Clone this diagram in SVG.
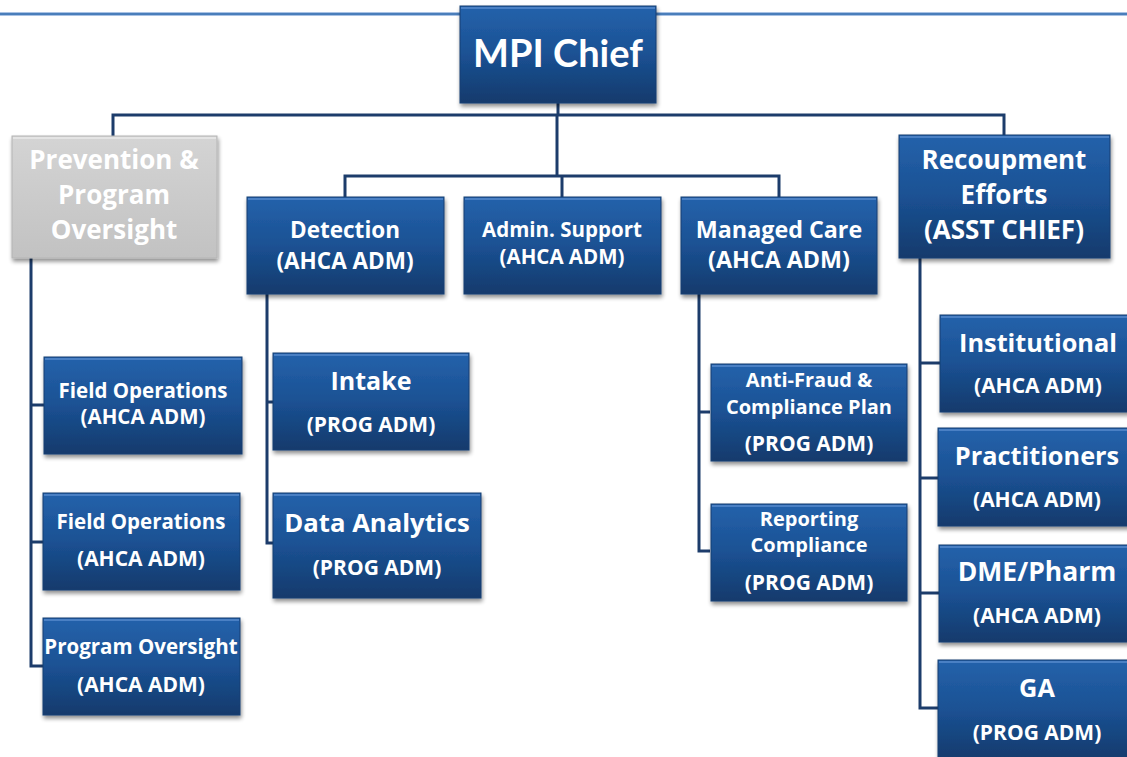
<svg xmlns="http://www.w3.org/2000/svg" width="1127" height="757" viewBox="0 0 1127 757">
  <defs>
    <linearGradient id="blueFill" x1="0" y1="0" x2="0" y2="1">
      <stop offset="0" stop-color="#2462ab"/>
      <stop offset="0.5" stop-color="#1b5193"/>
      <stop offset="1" stop-color="#123a6c"/>
    </linearGradient>
    <linearGradient id="grayFill" x1="0" y1="0" x2="0" y2="1">
      <stop offset="0" stop-color="#d4d4d4"/>
      <stop offset="1" stop-color="#c2c2c2"/>
    </linearGradient>
    <filter id="shadow" x="-10%" y="-10%" width="125%" height="130%">
      <feGaussianBlur in="SourceAlpha" stdDeviation="2"/>
      <feOffset dx="1" dy="3" result="blur"/>
      <feComponentTransfer><feFuncA type="linear" slope="0.45"/></feComponentTransfer>
      <feMerge><feMergeNode/><feMergeNode in="SourceGraphic"/></feMerge>
    </filter>
  </defs>
  <style>
    .box { fill: url(#blueFill); stroke: #163f73; stroke-width: 1; filter: url(#shadow); }
    .gbox { fill: url(#grayFill); stroke: #b4b4b4; stroke-width: 1; filter: url(#shadow); }
    .hl { fill: none; stroke: #4a80c4; stroke-width: 2; }
    .ghl { fill: none; stroke: #e4e4e4; stroke-width: 2; }
    .lbl { font-family: "Open Sans", Lato, "Liberation Sans", sans-serif; font-weight: bold; fill: #ffffff; text-anchor: middle; }
    .title { font-family: Lato, "Open Sans", "Liberation Sans", sans-serif; }
    .sub { font-size: 21px; }
    .conn { fill: none; stroke: #1c3c6b; stroke-width: 3; stroke-linejoin: miter; }
  </style>

  <rect width="1127" height="757" fill="#ffffff"/>
  <!-- header rule -->
  <line x1="0" y1="14" x2="1127" y2="14" stroke="#a9c2e4" stroke-width="4"/>
  <line x1="0" y1="14" x2="1127" y2="14" stroke="#4a7ebb" stroke-width="2"/>

  <g id="connectors" class="conn">
    <polyline points="558,103 558,115"/>
    <polyline points="113,137 113,115 1004,115 1004,135"/>
    <polyline points="557,115 557,176"/>
    <polyline points="345,197 345,176 779,176 779,197"/>
    <polyline points="562,176 562,197"/>
    <!-- Prevention branch -->
    <polyline points="31,258 31,666 43,666"/>
    <polyline points="31,405 44,405"/>
    <polyline points="31,542 43,542"/>
    <!-- Detection branch -->
    <polyline points="267,294 267,543 273,543"/>
    <polyline points="267,402 273,402"/>
    <!-- Managed care branch -->
    <polyline points="699,294 699,551 710,551"/>
    <polyline points="699,412 710,412"/>
    <!-- Recoupment branch -->
    <polyline points="920,258 920,708 938,708"/>
    <polyline points="920,363 940,363"/>
    <polyline points="920,478 938,478"/>
    <polyline points="920,593 939,593"/>
  </g>

  <g id="mpi-chief">
    <rect class="box" x="460" y="6" width="196" height="97"/>
    <line class="hl" x1="461" y1="8" x2="655" y2="8"/>
    <text class="lbl title" x="558" y="67" font-size="38">MPI Chief</text>
  </g>

  <g id="prevention">
    <rect class="gbox" x="12" y="136" width="205" height="122"/>
    <line class="ghl" x1="13" y1="138" x2="216" y2="138"/>
    <text class="lbl" x="114" y="169" font-size="26">Prevention &amp;</text>
    <text class="lbl" x="114" y="204" font-size="26">Program</text>
    <text class="lbl" x="114" y="239" font-size="26">Oversight</text>
  </g>

  <g id="detection">
    <rect class="box" x="247" y="197" width="197" height="97"/>
    <line class="hl" x1="248" y1="199" x2="443" y2="199"/>
    <text class="lbl" x="345" y="238" font-size="22.5">Detection</text>
    <text class="lbl" x="345" y="269" font-size="22.5">(AHCA ADM)</text>
  </g>

  <g id="admin-support">
    <rect class="box" x="464" y="197" width="197" height="97"/>
    <line class="hl" x1="465" y1="199" x2="660" y2="199"/>
    <text class="lbl" x="562" y="237" font-size="20.5">Admin. Support</text>
    <text class="lbl" x="562" y="264" font-size="20.5">(AHCA ADM)</text>
  </g>

  <g id="managed-care">
    <rect class="box" x="681" y="197" width="196" height="97"/>
    <line class="hl" x1="682" y1="199" x2="876" y2="199"/>
    <text class="lbl" x="779" y="238" font-size="23.3">Managed Care</text>
    <text class="lbl" x="779" y="268" font-size="23.3">(AHCA ADM)</text>
  </g>

  <g id="recoupment">
    <rect class="box" x="899" y="135" width="211" height="123"/>
    <line class="hl" x1="900" y1="137" x2="1109" y2="137"/>
    <text class="lbl" x="1004" y="169" font-size="26">Recoupment</text>
    <text class="lbl" x="1004" y="204" font-size="26">Efforts</text>
    <text class="lbl" x="1004" y="239" font-size="26">(ASST CHIEF)</text>
  </g>

  <g id="field-ops-1">
    <rect class="box" x="44" y="357" width="198" height="97"/>
    <line class="hl" x1="45" y1="359" x2="241" y2="359"/>
    <text class="lbl" x="143" y="398" font-size="20.5">Field Operations</text>
    <text class="lbl" x="143" y="424" font-size="20.5">(AHCA ADM)</text>
  </g>

  <g id="field-ops-2">
    <rect class="box" x="43" y="493" width="197" height="97"/>
    <line class="hl" x1="44" y1="495" x2="239" y2="495"/>
    <text class="lbl" x="141" y="529" font-size="20.5">Field Operations</text>
    <text class="lbl sub" x="141" y="566">(AHCA ADM)</text>
  </g>

  <g id="program-oversight">
    <rect class="box" x="43" y="618" width="197" height="97"/>
    <line class="hl" x1="44" y1="620" x2="239" y2="620"/>
    <text class="lbl" x="141" y="654" font-size="20.5">Program Oversight</text>
    <text class="lbl sub" x="141" y="692">(AHCA ADM)</text>
  </g>

  <g id="intake">
    <rect class="box" x="273" y="353" width="196" height="97"/>
    <line class="hl" x1="274" y1="355" x2="468" y2="355"/>
    <text class="lbl" x="371" y="390" font-size="25">Intake</text>
    <text class="lbl sub" x="371" y="432">(PROG ADM)</text>
  </g>

  <g id="data-analytics">
    <rect class="box" x="273" y="493" width="208" height="105"/>
    <line class="hl" x1="274" y1="495" x2="480" y2="495"/>
    <text class="lbl" x="377" y="532" font-size="25.7">Data Analytics</text>
    <text class="lbl sub" x="377" y="575">(PROG ADM)</text>
  </g>

  <g id="anti-fraud">
    <rect class="box" x="711" y="364" width="196" height="97"/>
    <line class="hl" x1="712" y1="366" x2="906" y2="366"/>
    <text class="lbl" x="809" y="387" font-size="20">Anti-Fraud &amp;</text>
    <text class="lbl" x="809" y="414" font-size="20">Compliance Plan</text>
    <text class="lbl sub" x="809" y="451">(PROG ADM)</text>
  </g>

  <g id="reporting">
    <rect class="box" x="711" y="504" width="196" height="97"/>
    <line class="hl" x1="712" y1="506" x2="906" y2="506"/>
    <text class="lbl" x="809" y="526" font-size="20">Reporting</text>
    <text class="lbl" x="809" y="552" font-size="20">Compliance</text>
    <text class="lbl sub" x="809" y="590">(PROG ADM)</text>
  </g>

  <g id="institutional">
    <rect class="box" x="940" y="315" width="195" height="97"/>
    <line class="hl" x1="941" y1="317" x2="1134" y2="317"/>
    <text class="lbl" x="1038" y="352" font-size="25.3">Institutional</text>
    <text class="lbl sub" x="1038" y="393">(AHCA ADM)</text>
  </g>

  <g id="practitioners">
    <rect class="box" x="938" y="428" width="197" height="98"/>
    <line class="hl" x1="939" y1="430" x2="1134" y2="430"/>
    <text class="lbl" x="1037" y="465" font-size="25.3">Practitioners</text>
    <text class="lbl sub" x="1037" y="507">(AHCA ADM)</text>
  </g>

  <g id="dme-pharm">
    <rect class="box" x="939" y="545" width="196" height="97"/>
    <line class="hl" x1="940" y1="547" x2="1134" y2="547"/>
    <text class="lbl" x="1037" y="581" font-size="26.5">DME/Pharm</text>
    <text class="lbl sub" x="1037" y="623">(AHCA ADM)</text>
  </g>

  <g id="ga">
    <rect class="box" x="938" y="660" width="197" height="100"/>
    <line class="hl" x1="939" y1="662" x2="1134" y2="662"/>
    <text class="lbl" x="1037" y="697" font-size="25.3">GA</text>
    <text class="lbl sub" x="1037" y="740">(PROG ADM)</text>
  </g>
</svg>
